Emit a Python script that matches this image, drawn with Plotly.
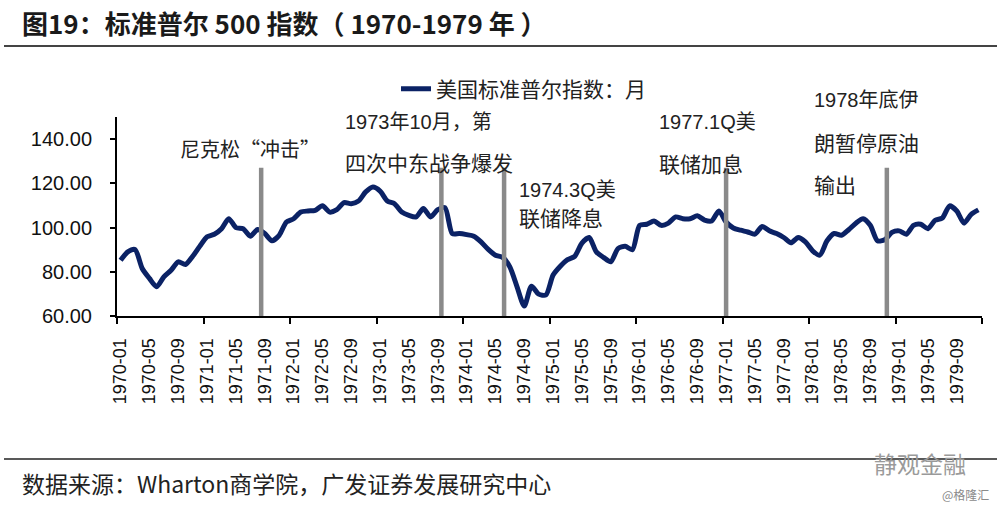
import plotly.graph_objects as go

# ---------------- data ----------------
months = [f"{y}-{m:02d}" for y in range(1970, 1980) for m in range(1, 13)]
sp500 = [
    85.2, 89.0, 90.1, 81.5, 77.0, 73.2, 77.7, 80.7, 84.5, 83.3, 87.0, 91.6,
    95.8, 97.0, 99.5, 104.0, 100.0, 99.5, 96.1, 99.1, 97.3, 94.0, 96.5, 102.5,
    104.0, 107.0, 107.5, 107.8, 109.9, 107.0, 108.1, 111.3, 110.8, 112.0, 116.1, 118.3,
    116.5, 112.0, 110.8, 107.0, 105.5, 104.8, 108.6, 104.8, 108.1, 109.0, 97.3, 97.3,
    96.8, 96.1, 93.5, 90.1, 87.5, 86.5, 82.2, 73.2, 64.5, 73.5, 69.9, 69.5,
    78.5, 82.5, 85.5, 87.0, 93.0, 95.5, 89.0, 86.5, 84.5, 90.5, 91.5, 90.0,
    101.0, 101.5, 103.0, 101.0, 102.0, 104.8, 104.0, 104.0, 105.3, 103.4, 103.0, 107.5,
    102.5, 99.8, 98.8, 98.0, 97.0, 100.5, 98.5, 97.3, 95.5, 93.1, 95.5, 93.5,
    89.5, 87.5, 94.0, 97.3, 96.5, 99.0, 102.0, 104.0, 101.0, 94.0, 94.5, 97.8,
    98.5, 97.0, 101.0, 101.5, 99.5, 103.3, 104.3, 109.8, 107.5, 102.0, 106.0, 108.0,
]
series_name = "美国标准普尔指数：月"

# event markers (month index on the category axis) and their height
event_pos = [19.5, 44.5, 53.2, 84.0, 106.3]
event_top = 127.0

tick_labels = months[::4]
y_ticks = [60, 80, 100, 120, 140]

# ---------------- layout helpers ----------------
L, R, T, B = 117, 982, 117, 316
W, H = R - L, B - T


def px(x):
    return (x - L) / W


def py(y):
    return (B - y) / H


FONT = "Liberation Sans, Arial, Noto Sans CJK SC"
CJK = "Noto Sans CJK SC, Liberation Sans"

fig = go.Figure()
idx = list(range(len(months)))
fig.add_trace(go.Scatter(
    x=idx, y=sp500, mode="lines", name=series_name,
    line=dict(color="#0b2265", width=5, shape="spline", smoothing=0.7),
    text=months, hovertemplate="%{text}: %{y:.2f}<extra></extra>",
))

ex, ey = [], []
for e in event_pos:
    ex += [e, e, None]
    ey += [60, event_top, None]
fig.add_trace(go.Scatter(
    x=ex, y=ey, mode="lines", showlegend=False, hoverinfo="skip",
    line=dict(color="#8a8a8a", width=4.5),
))

fig.update_xaxes(
    range=[-0.5, len(months) - 0.5],
    tickmode="array", tickvals=idx[::4], ticktext=tick_labels,
    tickangle=-90, ticks="", ticklabelstandoff=13,
    tickfont=dict(family=FONT, size=18, color="#111"),
    showline=True, linecolor="black", linewidth=2,
    showgrid=False, zeroline=False,
    minor=dict(tickmode="array",
               tickvals=[-0.5 + 12 * k for k in range(11)],
               ticks="outside", ticklen=6, tickwidth=2, tickcolor="black"),
)
fig.update_yaxes(
    range=[60, 150], tickmode="array", tickvals=y_ticks, tickformat=".2f",
    ticks="outside", ticklen=5, tickwidth=2, tickcolor="black",
    ticklabelstandoff=14,
    tickfont=dict(family=FONT, size=20, color="#111"),
    showline=True, linecolor="black", linewidth=2,
    showgrid=False, zeroline=False,
)

annotations = [
    dict(text="<b>图19：标准普尔 500 指数（ 1970-1979 年 ）</b>", x=20, y=23, size=26, fam=CJK, col="#1a1a1a"),
    dict(text="尼克松“冲击”", x=178, y=148, size=20, fam=CJK, col="#222"),
    dict(text="1973年10月，第", x=343, y=122, size=20, fam=FONT, col="#222"),
    dict(text="四次中东战争爆发", x=343, y=162, size=21, fam=CJK, col="#222"),
    dict(text="1974.3Q美", x=517, y=190, size=20, fam=FONT, col="#222"),
    dict(text="联储降息", x=517, y=217, size=21, fam=CJK, col="#222"),
    dict(text="1977.1Q美", x=657, y=122, size=20, fam=FONT, col="#222"),
    dict(text="联储加息", x=657, y=163, size=21, fam=CJK, col="#222"),
    dict(text="1978年底伊", x=812, y=100, size=20, fam=FONT, col="#222"),
    dict(text="朗暂停原油", x=812, y=142, size=21, fam=CJK, col="#222"),
    dict(text="输出", x=812, y=184, size=21, fam=CJK, col="#222"),
    dict(text="数据来源：Wharton商学院，广发证券发展研究中心", x=20, y=483, size=23, fam=CJK, col="#222"),
    dict(text="静观金融", x=872, y=463, size=23, fam=CJK, col="#9a9a9a"),
    dict(text="@格隆汇", x=940, y=494, size=12, fam=CJK, col="#8a8a8a"),
]
for a in annotations:
    fig.add_annotation(
        text=a["text"], xref="paper", yref="paper", x=px(a["x"]), y=py(a["y"]),
        xanchor="left", yanchor="middle", showarrow=False,
        font=dict(family=a["fam"], size=a["size"], color=a["col"]),
    )

# rules under title and above source
fig.add_shape(type="line", xref="paper", yref="paper",
              x0=px(4), x1=px(997), y0=py(46), y1=py(46),
              line=dict(color="#444", width=2))
fig.add_shape(type="line", xref="paper", yref="paper",
              x0=px(4), x1=px(997), y0=py(459), y1=py(459),
              line=dict(color="#222", width=1.5))

fig.update_layout(
    width=1000, height=506,
    margin=dict(l=L, r=1000 - R, t=T, b=506 - B),
    plot_bgcolor="white", paper_bgcolor="white",
    showlegend=True,
    legend=dict(orientation="h", x=px(396), y=py(89), xanchor="left", yanchor="middle",
                bgcolor="rgba(0,0,0,0)", font=dict(family=CJK, size=21, color="#222")),
    font=dict(family=FONT),
)

fig.write_html("out.html", config={"displayModeBar": False},
               post_script="document.body.style.margin='0';")
